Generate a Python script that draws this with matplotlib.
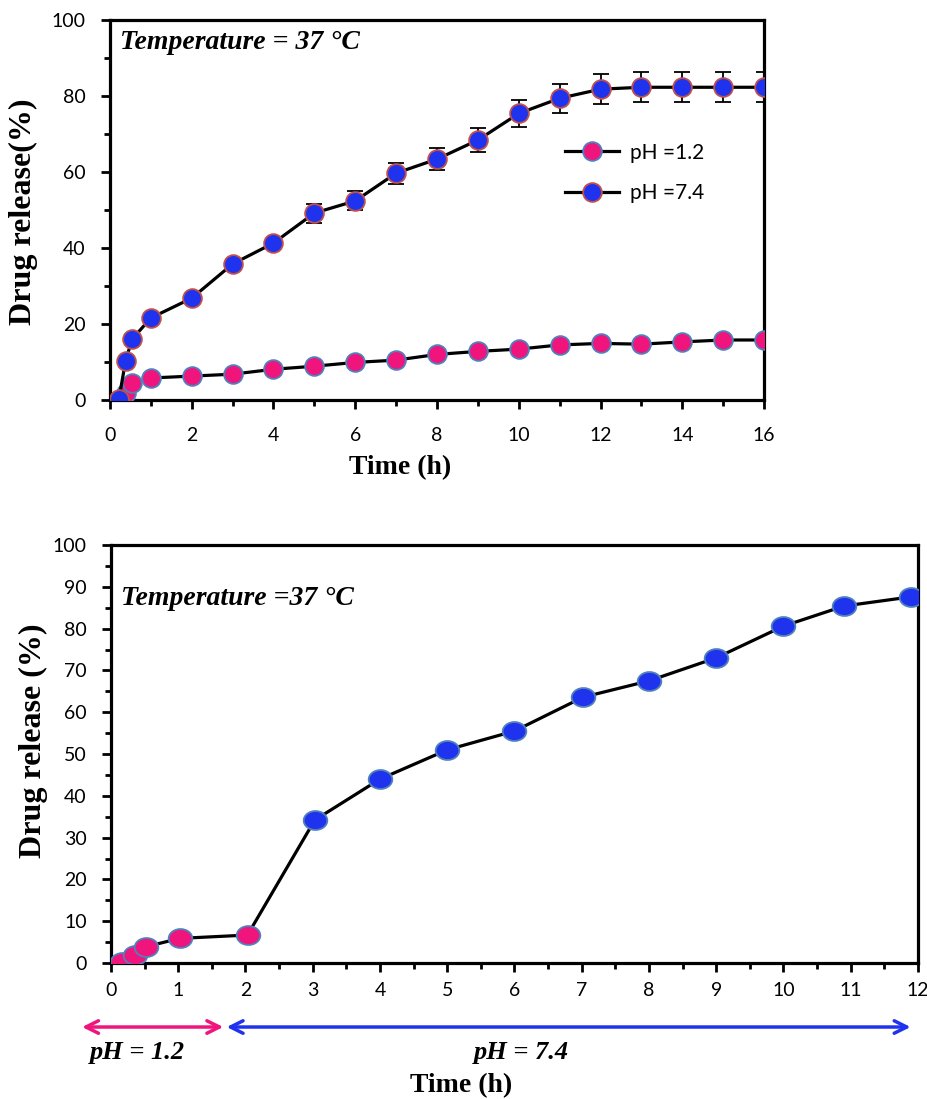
import numpy as np
import matplotlib
matplotlib.use('Agg')
import matplotlib.pyplot as plt
from matplotlib.path import Path
from matplotlib.transforms import Affine2D
from matplotlib.ticker import MultipleLocator

# ---- data ----
# top panel: release at pH 1.2 and pH 7.4, 37 C
t_top = [0.22, 0.38, 0.54, 1, 2, 3, 4, 5, 6, 7, 8, 9, 10, 11, 12, 13, 14, 15, 16]
ph12_top = [0, 1.8, 4.4, 5.8, 6.3, 6.8, 8.1, 8.9, 9.9, 10.5, 12.0, 12.8, 13.4,
            14.5, 14.9, 14.7, 15.3, 15.8, 15.8]
ph74_top = [0.3, 10.2, 16.0, 21.6, 26.8, 35.8, 41.3, 49.2, 52.4, 59.7, 63.4,
            68.4, 75.4, 79.4, 81.8, 82.3, 82.3, 82.3, 82.3]
ph74_err = [0.8, 0.8, 0.8, 0.8, 0.8, 1.0, 1.2, 2.5, 2.5, 2.8, 2.8, 3.2, 3.5,
            3.8, 4.0, 4.0, 4.0, 4.0, 4.0]

# bottom panel: pH switched from 1.2 to 7.4 after 2 h
t_acid = [0.17, 0.35, 0.52, 1.02, 2.03]
rel_acid = [0.2, 1.9, 3.9, 5.9, 6.7]
t_base = [3.03, 4.0, 5.0, 6.0, 7.02, 8.0, 9.0, 10.0, 10.9, 11.9]
rel_base = [34.2, 44.0, 51.0, 55.5, 63.6, 67.5, 73.0, 80.6, 85.4, 87.6]

pink = '#F0157C'
blue = '#1F33EE'
edge_red = '#C0504D'
edge_blue = '#4F81BD'

plt.rcParams['font.family'] = ['Lato', 'DejaVu Sans']
serif = ['Liberation Serif', 'DejaVu Serif']

fig = plt.figure(figsize=(9.28, 10.99), dpi=100)
ax1 = fig.add_axes([0.1185, 0.636, 0.7048, 0.3458])
ax2 = fig.add_axes([0.1196, 0.1237, 0.8696, 0.3804])


def style_axes(ax, xpad):
    for s in ax.spines.values():
        s.set_linewidth(2.3)
    ax.tick_params(which='major', length=6.5, width=2, labelsize=14, direction='out')
    ax.tick_params(which='minor', length=4.5, width=2, direction='out')
    ax.tick_params(axis='y', which='major', pad=11)
    ax.tick_params(axis='x', which='major', pad=xpad)
    ax.tick_params(top=False, right=False, which='both')


# ---- top panel ----
ax1.plot(t_top, ph12_top, '-', color='black', lw=2.3, marker='o', ms=13.5,
         mfc=pink, mec=edge_blue, mew=1.3, label='pH =1.2', zorder=3)
ax1.errorbar(t_top, ph74_top, yerr=ph74_err, fmt='none', ecolor='black',
             elinewidth=1.3, capsize=5.5, capthick=1.3, zorder=2)
ax1.plot(t_top, ph74_top, '-', color='black', lw=2.3, marker='o', ms=13.5,
         mfc=blue, mec=edge_red, mew=1.3, label='pH =7.4', zorder=4)

ax1.set_xlim(0, 16)
ax1.set_ylim(0, 100)
ax1.xaxis.set_major_locator(MultipleLocator(2))
ax1.xaxis.set_minor_locator(MultipleLocator(1))
ax1.yaxis.set_major_locator(MultipleLocator(20))
ax1.yaxis.set_minor_locator(MultipleLocator(10))
style_axes(ax1, 13)
ax1.set_xlabel('Time (h)', family=serif, fontweight='bold', fontsize=20)
ax1.xaxis.set_label_coords(0.443, -0.145)
ax1.set_ylabel('Drug release(%)', family=serif, fontweight='bold', fontsize=23)
ax1.yaxis.set_label_coords(-0.11, 0.495)
ax1.text(0.015, 0.942, 'Temperature = 37 °C', transform=ax1.transAxes,
         family=serif, fontweight='bold', fontstyle='italic', fontsize=20,
         va='center', ha='left')
leg = ax1.legend(loc='upper left', bbox_to_anchor=(0.667, 0.727), frameon=False,
                 fontsize=15, handlelength=2.6, labelspacing=1.0, handletextpad=0.5)

# ---- bottom panel ----
ell = Path.unit_circle().transformed(Affine2D().scale(1.25, 1.0))
ax2.plot(t_acid + t_base, rel_acid + rel_base, '-', color='black', lw=2.3, zorder=2)
ax2.plot(t_acid, rel_acid, linestyle='none', marker=ell, ms=17,
         mfc=pink, mec=edge_blue, mew=1.3, zorder=3)
ax2.plot(t_base, rel_base, linestyle='none', marker=ell, ms=17,
         mfc=blue, mec=edge_blue, mew=1.3, zorder=3)

ax2.set_xlim(0, 12)
ax2.set_ylim(0, 100)
ax2.xaxis.set_major_locator(MultipleLocator(1))
ax2.xaxis.set_minor_locator(MultipleLocator(0.5))
ax2.yaxis.set_major_locator(MultipleLocator(10))
ax2.yaxis.set_minor_locator(MultipleLocator(5))
style_axes(ax2, 7)
ax2.set_ylabel('Drug release (%)', family=serif, fontweight='bold', fontsize=23)
ax2.yaxis.set_label_coords(-0.078, 0.531)
ax2.text(0.012, 0.873, 'Temperature =37 °C', transform=ax2.transAxes,
         family=serif, fontweight='bold', fontstyle='italic', fontsize=20,
         va='center', ha='left')

# pH arrows under the x axis
tr = ax2.get_xaxis_transform()
arrow_style = '<->,head_length=0.9,head_width=0.45'
ax2.annotate('', xy=(-0.43, -0.153), xytext=(1.67, -0.153), xycoords=tr, textcoords=tr,
             arrowprops=dict(arrowstyle=arrow_style, color=pink, lw=2.5,
                             shrinkA=0, shrinkB=0), annotation_clip=False)
ax2.annotate('', xy=(1.72, -0.153), xytext=(11.89, -0.153), xycoords=tr, textcoords=tr,
             arrowprops=dict(arrowstyle=arrow_style, color=blue, lw=2.5,
                             shrinkA=0, shrinkB=0), annotation_clip=False)
ax2.text(0.39, -0.213, 'pH = 1.2', transform=tr, family=serif, fontweight='bold',
         fontstyle='italic', fontsize=19, ha='center', va='center')
ax2.text(6.1, -0.213, 'pH = 7.4', transform=tr, family=serif, fontweight='bold',
         fontstyle='italic', fontsize=19, ha='center', va='center')
ax2.text(5.2, -0.292, 'Time (h)', transform=tr, family=serif, fontweight='bold',
         fontsize=20, ha='center', va='center')

fig.savefig('out.png', dpi=100)
